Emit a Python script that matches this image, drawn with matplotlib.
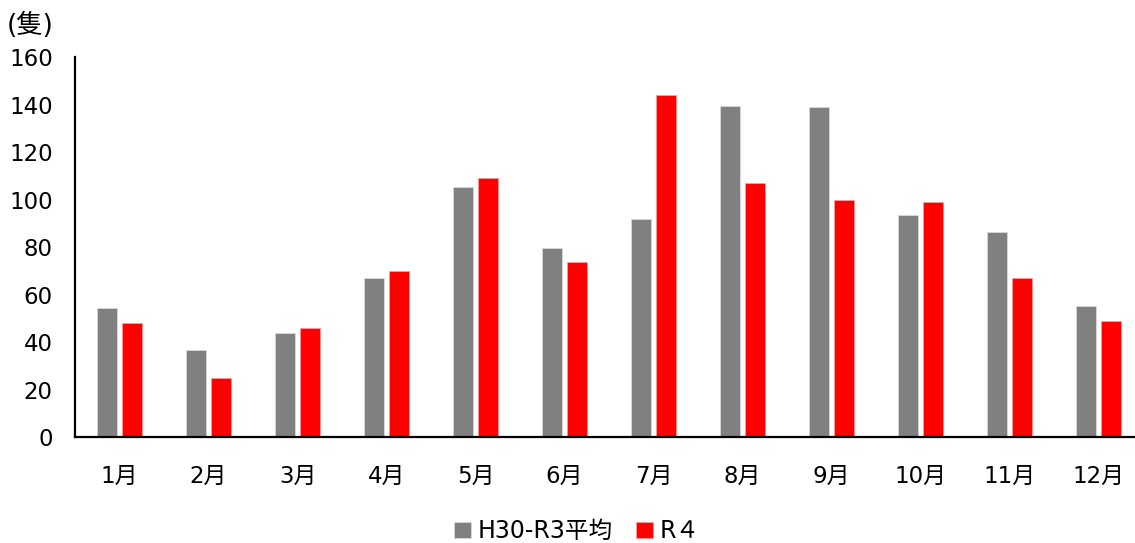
import numpy as np
import matplotlib
matplotlib.use("Agg")
import matplotlib.pyplot as plt

plt.rcParams['font.family'] = ['DejaVu Sans', 'Noto Sans CJK JP']

# monthly counts (隻)
months = ['1月', '2月', '3月', '4月', '5月', '6月', '7月', '8月', '9月', '10月', '11月', '12月']
avg_h30_r3 = [54.5, 37, 44, 67, 105.5, 79.5, 92, 139.5, 139, 93.5, 86.5, 55.5]
r4 = [48, 25, 46, 70, 109, 74, 144, 107, 100, 99, 67, 49]
series_names = ['H30-R3平均', 'R４']
yticks = [0, 20, 40, 60, 80, 100, 120, 140, 160]

fig = plt.figure(figsize=(11.35, 5.43), dpi=100)
ax = fig.add_axes([0.0661, 0.1943, 0.9339, 0.7007])

x = np.arange(len(months))
w = 0.225
b1 = ax.bar(x - 0.14, avg_h30_r3, w, color='#808080', edgecolor='#d9d9d9', linewidth=0.6, label=series_names[0])
b2 = ax.bar(x + 0.14, r4, w, color='#ff0000', edgecolor='#ff9999', linewidth=0.6, label=series_names[1])

ax.set_xlim(-0.5, 11.41)
ax.set_ylim(0, 160)
ax.set_yticks(yticks)
ax.set_xticks(x)
ax.set_xticklabels(months)
ax.tick_params(axis='both', length=0, labelsize=16.5)
ax.tick_params(axis='y', pad=16)
ax.tick_params(axis='x', pad=20)

for s in ['top', 'right']:
    ax.spines[s].set_visible(False)
for s in ['left', 'bottom']:
    ax.spines[s].set_linewidth(1.6)
    ax.spines[s].set_color('black')

fig.text(0.006, 0.953, '(隻)', fontsize=19, va='center', ha='left')

fig.legend(handles=[b1, b2], labels=series_names, loc='center', bbox_to_anchor=(0.5085, 0.022),
           ncol=2, frameon=False, fontsize=17, handlelength=0.7, handleheight=0.7,
           handletextpad=0.3, columnspacing=1.0)

fig.savefig('out.png', dpi=100)
